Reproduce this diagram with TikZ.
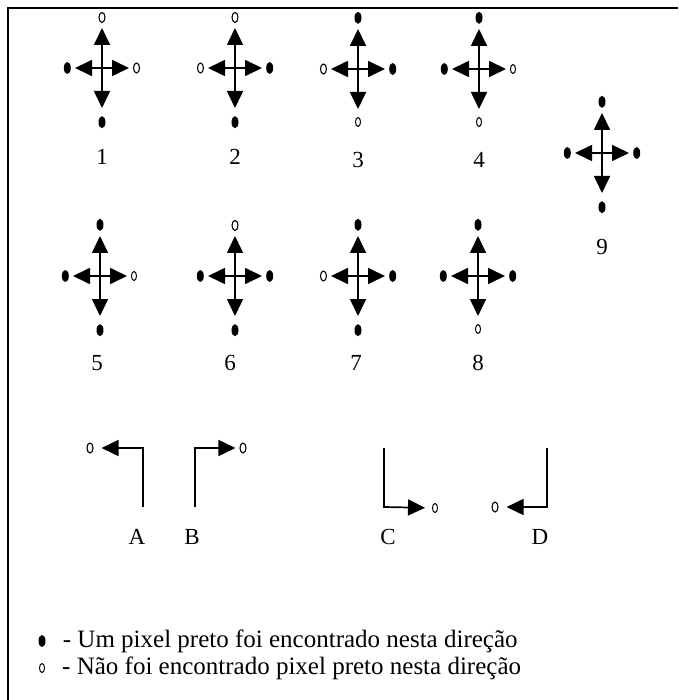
\documentclass[tikz,border=0pt]{standalone}
\usepackage{fontspec}
\setmainfont{Liberation Serif}
\usetikzlibrary{positioning, shapes.geometric, arrows.meta}

\newcommand{\cruz}[6]{%
  \coordinate (#1) at (#2);
  \node[#3, above = 45pt of #1] (#1t) {};
  \node[#4, right = 31pt of #1] (#1r) {};
  \node[#5, below = 48pt of #1] (#1b) {};
  \node[#6, left = 31pt of #1] (#1l) {};
  \draw[seta, shorten > = 5pt] (#1) -- (#1t);
  \draw[seta, shorten > = 4pt] (#1) -- (#1r);
  \draw[seta, shorten > = 8pt] (#1) -- (#1b);
  \draw[seta, shorten > = 4pt] (#1) -- (#1l);
}

\begin{document}
\begin{tikzpicture}[x=1pt, y=1pt,
  lleno/.style={ellipse, fill=black, minimum width=7pt, minimum height=12pt, inner sep=0pt},
  vazio/.style={ellipse, draw=black, line width=1.1pt, minimum width=6pt, minimum height=10pt, inner sep=0pt},
  zero/.style={ellipse, draw=black, line width=1pt, minimum width=5pt, minimum height=9pt, inner sep=0pt},
  seta/.style={-{Triangle[length=17pt,width=16pt]}, line width=1.7pt},
  rotulo/.style={font=\fontsize{23}{25}\selectfont},
  legenda/.style={font=\fontsize{25}{27}\selectfont, inner sep=0pt}]
  \useasboundingbox (0,0) rectangle (678,-700);
  \draw[line width=1.5pt] (8,-700) -- (8,-8) -- (678,-8);

  \cruz{c1}{102,-68}{vazio}{vazio}{lleno}{lleno}
  \cruz{c2}{235,-68}{vazio}{lleno}{lleno}{vazio}
  \cruz{c3}{358,-69}{lleno}{lleno}{zero}{vazio}
  \cruz{c4}{479,-69}{lleno}{zero}{zero}{lleno}
  \cruz{c9}{602,-153}{lleno}{lleno}{lleno}{lleno}
  \cruz{c5}{100,-276}{lleno}{zero}{lleno}{lleno}
  \cruz{c6}{235,-276}{vazio}{lleno}{lleno}{lleno}
  \cruz{c7}{358,-276}{lleno}{lleno}{lleno}{vazio}
  \cruz{c8}{478,-276}{lleno}{lleno}{zero}{lleno}

  \node[rotulo] (r1) at (102,-157) {1};
  \node[rotulo] (r2) at (235,-157) {2};
  \node[rotulo] (r3) at (358,-160) {3};
  \node[rotulo] (r4) at (479,-160) {4};
  \node[rotulo] (r9) at (602,-247) {9};
  \node[rotulo] (r5) at (97,-363) {5};
  \node[rotulo] (r6) at (230,-363) {6};
  \node[rotulo] (r7) at (356,-363) {7};
  \node[rotulo] (r8) at (478,-363) {8};

  \coordinate (aB) at (143,-507);
  \coordinate (aC) at (143,-448);
  \node[vazio] (aM) at (90,-448) {};
  \draw[seta, shorten > = 8pt] (aB) -- (aC) -- (aM);
  \node[rotulo] (rA) at (137,-537) {A};

  \coordinate (bB) at (195,-507);
  \coordinate (bC) at (195,-448);
  \node[vazio] (bM) at (243,-448) {};
  \draw[seta, shorten > = 4pt] (bB) -- (bC) -- (bM);
  \node[rotulo] (rB) at (192,-537) {B};

  \coordinate (cT) at (384,-448);
  \coordinate (cC) at (384,-507);
  \node[zero] (cM) at (435,-508) {};
  \draw[seta, shorten > = 7pt] (cT) -- (cC) -- (cM);
  \node[rotulo] (rC) at (388,-537) {C};

  \coordinate (dT) at (547,-448);
  \coordinate (dC) at (547,-507);
  \node[vazio] (dM) at (495,-507) {};
  \draw[seta, shorten > = 8pt] (dT) -- (dC) -- (dM);
  \node[rotulo] (rD) at (540,-537) {D};

  \node[lleno] (lg1) at (42,-641) {};
  \node[zero] (lg2) at (42,-668) {};
  \node[legenda, right = 17pt of lg1] (t1) {- Um pixel preto foi encontrado nesta direção};
  \node[legenda, right = 17pt of lg2] (t2) {- Não foi encontrado pixel preto nesta direção};
\end{tikzpicture}
\end{document}
